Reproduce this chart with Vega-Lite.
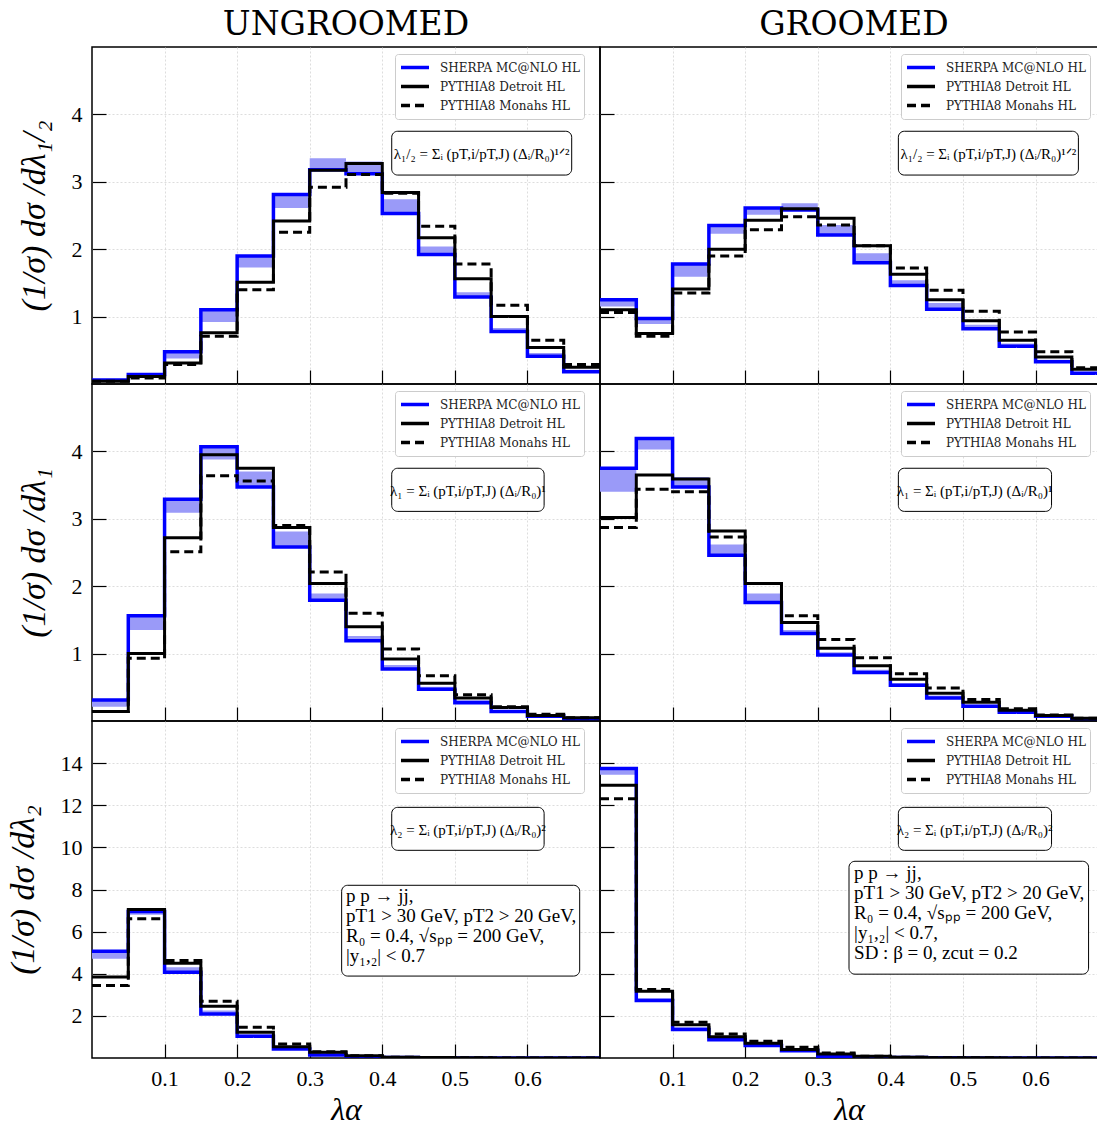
{
  "$schema": "https://vega.github.io/schema/vega-lite/v6.json",
  "background": "white",
  "padding": {"left": 5, "right": 0, "top": 8, "bottom": 2},
  "columns": 2,
  "spacing": 0,
  "bounds": "flush",
  "datasets": {
    "tl": [
      {"lo": 0, "hi": 0.05, "sherpa": 0.06, "band": 0.05, "detroit": 0.04, "monash": 0.04},
      {"lo": 0.05, "hi": 0.1, "sherpa": 0.14, "band": 0.12, "detroit": 0.11, "monash": 0.09},
      {"lo": 0.1, "hi": 0.15, "sherpa": 0.48, "band": 0.38, "detroit": 0.31, "monash": 0.29},
      {"lo": 0.15, "hi": 0.2, "sherpa": 1.10, "band": 0.92, "detroit": 0.76, "monash": 0.71},
      {"lo": 0.2, "hi": 0.25, "sherpa": 1.90, "band": 1.73, "detroit": 1.51, "monash": 1.40},
      {"lo": 0.25, "hi": 0.3, "sherpa": 2.81, "band": 2.61, "detroit": 2.42, "monash": 2.25},
      {"lo": 0.3, "hi": 0.35, "sherpa": 3.18, "band": 3.35, "detroit": 3.17, "monash": 2.92},
      {"lo": 0.35, "hi": 0.4, "sherpa": 3.12, "band": 3.30, "detroit": 3.27, "monash": 3.11},
      {"lo": 0.4, "hi": 0.45, "sherpa": 2.53, "band": 2.74, "detroit": 2.84, "monash": 2.83},
      {"lo": 0.45, "hi": 0.5, "sherpa": 1.92, "band": 2.04, "detroit": 2.17, "monash": 2.34},
      {"lo": 0.5, "hi": 0.55, "sherpa": 1.29, "band": 1.36, "detroit": 1.56, "monash": 1.78},
      {"lo": 0.55, "hi": 0.6, "sherpa": 0.78, "band": 0.83, "detroit": 1.00, "monash": 1.17},
      {"lo": 0.6, "hi": 0.65, "sherpa": 0.41, "band": 0.46, "detroit": 0.54, "monash": 0.65},
      {"lo": 0.65, "hi": 0.7, "sherpa": 0.18, "band": 0.21, "detroit": 0.25, "monash": 0.29}
    ],
    "tr": [
      {"lo": 0, "hi": 0.05, "sherpa": 1.25, "band": 1.15, "detroit": 1.10, "monash": 1.06},
      {"lo": 0.05, "hi": 0.1, "sherpa": 0.97, "band": 0.89, "detroit": 0.75, "monash": 0.71},
      {"lo": 0.1, "hi": 0.15, "sherpa": 1.78, "band": 1.59, "detroit": 1.41, "monash": 1.35},
      {"lo": 0.15, "hi": 0.2, "sherpa": 2.35, "band": 2.23, "detroit": 2.00, "monash": 1.90},
      {"lo": 0.2, "hi": 0.25, "sherpa": 2.61, "band": 2.51, "detroit": 2.43, "monash": 2.29},
      {"lo": 0.25, "hi": 0.3, "sherpa": 2.58, "band": 2.68, "detroit": 2.60, "monash": 2.48},
      {"lo": 0.3, "hi": 0.35, "sherpa": 2.21, "band": 2.36, "detroit": 2.46, "monash": 2.36},
      {"lo": 0.35, "hi": 0.4, "sherpa": 1.80, "band": 1.94, "detroit": 2.05, "monash": 2.05},
      {"lo": 0.4, "hi": 0.45, "sherpa": 1.46, "band": 1.54, "detroit": 1.63, "monash": 1.72},
      {"lo": 0.45, "hi": 0.5, "sherpa": 1.11, "band": 1.20, "detroit": 1.25, "monash": 1.39},
      {"lo": 0.5, "hi": 0.55, "sherpa": 0.82, "band": 0.88, "detroit": 0.94, "monash": 1.08},
      {"lo": 0.55, "hi": 0.6, "sherpa": 0.56, "band": 0.60, "detroit": 0.65, "monash": 0.77},
      {"lo": 0.6, "hi": 0.65, "sherpa": 0.33, "band": 0.36, "detroit": 0.40, "monash": 0.48},
      {"lo": 0.65, "hi": 0.7, "sherpa": 0.16, "band": 0.18, "detroit": 0.22, "monash": 0.24}
    ],
    "ml": [
      {"lo": 0, "hi": 0.05, "sherpa": 0.31, "band": 0.21, "detroit": 0.14, "monash": 0.14},
      {"lo": 0.05, "hi": 0.1, "sherpa": 1.56, "band": 1.35, "detroit": 1.00, "monash": 0.93},
      {"lo": 0.1, "hi": 0.15, "sherpa": 3.29, "band": 3.09, "detroit": 2.72, "monash": 2.51},
      {"lo": 0.15, "hi": 0.2, "sherpa": 4.07, "band": 3.88, "detroit": 3.95, "monash": 3.64},
      {"lo": 0.2, "hi": 0.25, "sherpa": 3.47, "band": 3.70, "detroit": 3.75, "monash": 3.56},
      {"lo": 0.25, "hi": 0.3, "sherpa": 2.58, "band": 2.81, "detroit": 2.87, "monash": 2.90},
      {"lo": 0.3, "hi": 0.35, "sherpa": 1.79, "band": 1.89, "detroit": 2.04, "monash": 2.21},
      {"lo": 0.35, "hi": 0.4, "sherpa": 1.19, "band": 1.26, "detroit": 1.40, "monash": 1.60},
      {"lo": 0.4, "hi": 0.45, "sherpa": 0.77, "band": 0.83, "detroit": 0.92, "monash": 1.07},
      {"lo": 0.45, "hi": 0.5, "sherpa": 0.47, "band": 0.51, "detroit": 0.56, "monash": 0.67},
      {"lo": 0.5, "hi": 0.55, "sherpa": 0.27, "band": 0.31, "detroit": 0.34, "monash": 0.39},
      {"lo": 0.55, "hi": 0.6, "sherpa": 0.14, "band": 0.16, "detroit": 0.20, "monash": 0.21},
      {"lo": 0.6, "hi": 0.65, "sherpa": 0.07, "band": 0.08, "detroit": 0.08, "monash": 0.10},
      {"lo": 0.65, "hi": 0.7, "sherpa": 0.03, "band": 0.03, "detroit": 0.05, "monash": 0.05}
    ],
    "mr": [
      {"lo": 0, "hi": 0.05, "sherpa": 3.75, "band": 3.40, "detroit": 3.02, "monash": 2.87},
      {"lo": 0.05, "hi": 0.1, "sherpa": 4.19, "band": 4.03, "detroit": 3.65, "monash": 3.44},
      {"lo": 0.1, "hi": 0.15, "sherpa": 3.47, "band": 3.62, "detroit": 3.59, "monash": 3.40},
      {"lo": 0.15, "hi": 0.2, "sherpa": 2.46, "band": 2.62, "detroit": 2.82, "monash": 2.73},
      {"lo": 0.2, "hi": 0.25, "sherpa": 1.76, "band": 1.89, "detroit": 2.04, "monash": 2.04},
      {"lo": 0.25, "hi": 0.3, "sherpa": 1.30, "band": 1.35, "detroit": 1.46, "monash": 1.56},
      {"lo": 0.3, "hi": 0.35, "sherpa": 0.98, "band": 1.02, "detroit": 1.08, "monash": 1.21},
      {"lo": 0.35, "hi": 0.4, "sherpa": 0.72, "band": 0.76, "detroit": 0.82, "monash": 0.94},
      {"lo": 0.4, "hi": 0.45, "sherpa": 0.53, "band": 0.56, "detroit": 0.62, "monash": 0.70},
      {"lo": 0.45, "hi": 0.5, "sherpa": 0.34, "band": 0.38, "detroit": 0.41, "monash": 0.49},
      {"lo": 0.5, "hi": 0.55, "sherpa": 0.22, "band": 0.24, "detroit": 0.28, "monash": 0.32},
      {"lo": 0.55, "hi": 0.6, "sherpa": 0.13, "band": 0.14, "detroit": 0.16, "monash": 0.18},
      {"lo": 0.6, "hi": 0.65, "sherpa": 0.07, "band": 0.07, "detroit": 0.08, "monash": 0.09},
      {"lo": 0.65, "hi": 0.7, "sherpa": 0.03, "band": 0.03, "detroit": 0.04, "monash": 0.04}
    ],
    "bl": [
      {"lo": 0, "hi": 0.05, "sherpa": 5.07, "band": 4.71, "detroit": 3.84, "monash": 3.44},
      {"lo": 0.05, "hi": 0.1, "sherpa": 6.96, "band": 6.80, "detroit": 7.05, "monash": 6.61},
      {"lo": 0.1, "hi": 0.15, "sherpa": 4.07, "band": 4.31, "detroit": 4.50, "monash": 4.63},
      {"lo": 0.15, "hi": 0.2, "sherpa": 2.09, "band": 2.25, "detroit": 2.46, "monash": 2.69},
      {"lo": 0.2, "hi": 0.25, "sherpa": 1.03, "band": 1.11, "detroit": 1.22, "monash": 1.46},
      {"lo": 0.25, "hi": 0.3, "sherpa": 0.43, "band": 0.51, "detroit": 0.54, "monash": 0.67},
      {"lo": 0.3, "hi": 0.35, "sherpa": 0.14, "band": 0.18, "detroit": 0.27, "monash": 0.30},
      {"lo": 0.35, "hi": 0.4, "sherpa": 0.06, "band": 0.07, "detroit": 0.11, "monash": 0.11},
      {"lo": 0.4, "hi": 0.45, "sherpa": 0.02, "band": 0.02, "detroit": 0.04, "monash": 0.04},
      {"lo": 0.45, "hi": 0.5, "sherpa": 0.01, "band": 0.01, "detroit": 0.02, "monash": 0.02},
      {"lo": 0.5, "hi": 0.55, "sherpa": 0.005, "band": 0.005, "detroit": 0.01, "monash": 0.01},
      {"lo": 0.55, "hi": 0.6, "sherpa": 0.003, "band": 0.003, "detroit": 0.005, "monash": 0.005},
      {"lo": 0.6, "hi": 0.65, "sherpa": 0.002, "band": 0.002, "detroit": 0.003, "monash": 0.003},
      {"lo": 0.65, "hi": 0.7, "sherpa": 0.001, "band": 0.001, "detroit": 0.002, "monash": 0.002}
    ],
    "br": [
      {"lo": 0, "hi": 0.05, "sherpa": 13.74, "band": 13.45, "detroit": 12.95, "monash": 12.31},
      {"lo": 0.05, "hi": 0.1, "sherpa": 2.73, "band": 2.84, "detroit": 3.17, "monash": 3.25},
      {"lo": 0.1, "hi": 0.15, "sherpa": 1.35, "band": 1.46, "detroit": 1.58, "monash": 1.70},
      {"lo": 0.15, "hi": 0.2, "sherpa": 0.87, "band": 0.98, "detroit": 1.01, "monash": 1.14},
      {"lo": 0.2, "hi": 0.25, "sherpa": 0.59, "band": 0.63, "detroit": 0.70, "monash": 0.79},
      {"lo": 0.25, "hi": 0.3, "sherpa": 0.35, "band": 0.38, "detroit": 0.40, "monash": 0.51},
      {"lo": 0.3, "hi": 0.35, "sherpa": 0.08, "band": 0.12, "detroit": 0.19, "monash": 0.24},
      {"lo": 0.35, "hi": 0.4, "sherpa": 0.03, "band": 0.04, "detroit": 0.08, "monash": 0.08},
      {"lo": 0.4, "hi": 0.45, "sherpa": 0.02, "band": 0.02, "detroit": 0.03, "monash": 0.03},
      {"lo": 0.45, "hi": 0.5, "sherpa": 0.01, "band": 0.01, "detroit": 0.015, "monash": 0.015},
      {"lo": 0.5, "hi": 0.55, "sherpa": 0.005, "band": 0.005, "detroit": 0.01, "monash": 0.01},
      {"lo": 0.55, "hi": 0.6, "sherpa": 0.003, "band": 0.003, "detroit": 0.005, "monash": 0.005},
      {"lo": 0.6, "hi": 0.65, "sherpa": 0.002, "band": 0.002, "detroit": 0.003, "monash": 0.003},
      {"lo": 0.65, "hi": 0.7, "sherpa": 0.001, "band": 0.001, "detroit": 0.002, "monash": 0.002}
    ]
  },
  "concat": [
    {
      "width": 508, "height": 337,
      "title": {"text": "UNGROOMED"},
      "data": {"name": "tl"},
      "layer": [
        {"mark": {"type": "rect", "fill": "#9a9af8", "clip": true},
         "encoding": {
           "x": {"field": "lo", "type": "quantitative", "scale": {"domain": [0, 0.7], "nice": false, "zero": false}, "axis": {"values": [0.1, 0.2, 0.3, 0.4, 0.5, 0.6], "labels": false, "title": null}},
           "x2": {"field": "hi"},
           "y": {"field": "sherpa", "type": "quantitative", "scale": {"domain": [0, 5], "nice": false, "zero": false}, "axis": {"values": [1, 2, 3, 4], "format": "d", "title": "(1/σ) dσ /dλ₁/₂"}},
           "y2": {"field": "band"}}},
        {"transform": [{"fold": ["lo", "hi"], "as": ["side", "edge"]}],
         "mark": {"type": "line", "strokeWidth": 3.5, "clip": true},
         "encoding": {
           "x": {"field": "edge", "type": "quantitative"},
           "y": {"field": "sherpa", "type": "quantitative"},
           "order": [{"field": "edge", "type": "quantitative"}, {"field": "side", "type": "ordinal"}],
           "color": {"datum": "SHERPA MC@NLO HL", "type": "nominal", "scale": {"domain": ["SHERPA MC@NLO HL", "PYTHIA8 Detroit HL", "PYTHIA8 Monahs HL"], "range": ["#0000ff", "#000000", "#000000"]}, "legend": {"title": null, "orient": "none", "legendX": 303, "legendY": 7}},
           "strokeDash": {"datum": "SHERPA MC@NLO HL", "type": "nominal", "scale": {"domain": ["SHERPA MC@NLO HL", "PYTHIA8 Detroit HL", "PYTHIA8 Monahs HL"], "range": [[1, 0], [1, 0], [9, 5]]}, "legend": {"title": null, "orient": "none", "legendX": 303, "legendY": 7}}}},
        {"transform": [{"fold": ["lo", "hi"], "as": ["side", "edge"]}],
         "mark": {"type": "line", "strokeWidth": 3, "clip": true},
         "encoding": {
           "x": {"field": "edge", "type": "quantitative"},
           "y": {"field": "monash", "type": "quantitative"},
           "order": [{"field": "edge", "type": "quantitative"}, {"field": "side", "type": "ordinal"}],
           "color": {"datum": "PYTHIA8 Monahs HL", "type": "nominal"},
           "strokeDash": {"datum": "PYTHIA8 Monahs HL", "type": "nominal"}}},
        {"transform": [{"fold": ["lo", "hi"], "as": ["side", "edge"]}],
         "mark": {"type": "line", "strokeWidth": 3, "clip": true},
         "encoding": {
           "x": {"field": "edge", "type": "quantitative"},
           "y": {"field": "detroit", "type": "quantitative"},
           "order": [{"field": "edge", "type": "quantitative"}, {"field": "side", "type": "ordinal"}],
           "color": {"datum": "PYTHIA8 Detroit HL", "type": "nominal"},
           "strokeDash": {"datum": "PYTHIA8 Detroit HL", "type": "nominal"}}},
        {"data": {"values": [{}]},
         "mark": {"type": "rect", "fill": "white", "stroke": "black", "strokeWidth": 1, "cornerRadius": 6},
         "encoding": {"x": {"datum": 0.413}, "x2": {"datum": 0.661}, "y": {"datum": 3.75}, "y2": {"datum": 3.10}}},
        {"data": {"values": [{}]},
         "mark": {"type": "text", "text": "λ₁/₂ = Σᵢ (pT,i/pT,J) (Δᵢ/R₀)¹ᐟ²", "font": "Liberation Serif", "fontSize": 15, "align": "center", "baseline": "middle", "color": "black"},
         "encoding": {"x": {"datum": 0.537}, "y": {"datum": 3.41}}}
      ]
    },
    {
      "width": 498, "height": 337,
      "title": {"text": "GROOMED", "dx": 5},
      "data": {"name": "tr"},
      "layer": [
        {"mark": {"type": "rect", "fill": "#9a9af8", "clip": true},
         "encoding": {
           "x": {"field": "lo", "type": "quantitative", "scale": {"domain": [0, 0.686], "nice": false, "zero": false}, "axis": {"values": [0.1, 0.2, 0.3, 0.4, 0.5, 0.6], "labels": false, "title": null}},
           "x2": {"field": "hi"},
           "y": {"field": "sherpa", "type": "quantitative", "scale": {"domain": [0, 5], "nice": false, "zero": false}, "axis": {"values": [1, 2, 3, 4], "labels": false, "title": null}},
           "y2": {"field": "band"}}},
        {"transform": [{"fold": ["lo", "hi"], "as": ["side", "edge"]}],
         "mark": {"type": "line", "strokeWidth": 3.5, "clip": true},
         "encoding": {
           "x": {"field": "edge", "type": "quantitative"},
           "y": {"field": "sherpa", "type": "quantitative"},
           "order": [{"field": "edge", "type": "quantitative"}, {"field": "side", "type": "ordinal"}],
           "color": {"datum": "SHERPA MC@NLO HL", "type": "nominal", "scale": {"domain": ["SHERPA MC@NLO HL", "PYTHIA8 Detroit HL", "PYTHIA8 Monahs HL"], "range": ["#0000ff", "#000000", "#000000"]}, "legend": {"title": null, "orient": "none", "legendX": 301, "legendY": 7}},
           "strokeDash": {"datum": "SHERPA MC@NLO HL", "type": "nominal", "scale": {"domain": ["SHERPA MC@NLO HL", "PYTHIA8 Detroit HL", "PYTHIA8 Monahs HL"], "range": [[1, 0], [1, 0], [9, 5]]}, "legend": {"title": null, "orient": "none", "legendX": 301, "legendY": 7}}}},
        {"transform": [{"fold": ["lo", "hi"], "as": ["side", "edge"]}],
         "mark": {"type": "line", "strokeWidth": 3, "clip": true},
         "encoding": {
           "x": {"field": "edge", "type": "quantitative"},
           "y": {"field": "monash", "type": "quantitative"},
           "order": [{"field": "edge", "type": "quantitative"}, {"field": "side", "type": "ordinal"}],
           "color": {"datum": "PYTHIA8 Monahs HL", "type": "nominal"},
           "strokeDash": {"datum": "PYTHIA8 Monahs HL", "type": "nominal"}}},
        {"transform": [{"fold": ["lo", "hi"], "as": ["side", "edge"]}],
         "mark": {"type": "line", "strokeWidth": 3, "clip": true},
         "encoding": {
           "x": {"field": "edge", "type": "quantitative"},
           "y": {"field": "detroit", "type": "quantitative"},
           "order": [{"field": "edge", "type": "quantitative"}, {"field": "side", "type": "ordinal"}],
           "color": {"datum": "PYTHIA8 Detroit HL", "type": "nominal"},
           "strokeDash": {"datum": "PYTHIA8 Detroit HL", "type": "nominal"}}},
        {"data": {"values": [{}]},
         "mark": {"type": "rect", "fill": "white", "stroke": "black", "strokeWidth": 1, "cornerRadius": 6},
         "encoding": {"x": {"datum": 0.411}, "x2": {"datum": 0.659}, "y": {"datum": 3.75}, "y2": {"datum": 3.10}}},
        {"data": {"values": [{}]},
         "mark": {"type": "text", "text": "λ₁/₂ = Σᵢ (pT,i/pT,J) (Δᵢ/R₀)¹ᐟ²", "font": "Liberation Serif", "fontSize": 15, "align": "center", "baseline": "middle", "color": "black"},
         "encoding": {"x": {"datum": 0.535}, "y": {"datum": 3.41}}}
      ]
    },
    {
      "width": 508, "height": 337,
      "data": {"name": "ml"},
      "layer": [
        {"mark": {"type": "rect", "fill": "#9a9af8", "clip": true},
         "encoding": {
           "x": {"field": "lo", "type": "quantitative", "scale": {"domain": [0, 0.7], "nice": false, "zero": false}, "axis": {"values": [0.1, 0.2, 0.3, 0.4, 0.5, 0.6], "labels": false, "title": null}},
           "x2": {"field": "hi"},
           "y": {"field": "sherpa", "type": "quantitative", "scale": {"domain": [0, 5], "nice": false, "zero": false}, "axis": {"values": [1, 2, 3, 4], "format": "d", "title": "(1/σ) dσ /dλ₁"}},
           "y2": {"field": "band"}}},
        {"transform": [{"fold": ["lo", "hi"], "as": ["side", "edge"]}],
         "mark": {"type": "line", "strokeWidth": 3.5, "clip": true},
         "encoding": {
           "x": {"field": "edge", "type": "quantitative"},
           "y": {"field": "sherpa", "type": "quantitative"},
           "order": [{"field": "edge", "type": "quantitative"}, {"field": "side", "type": "ordinal"}],
           "color": {"datum": "SHERPA MC@NLO HL", "type": "nominal", "scale": {"domain": ["SHERPA MC@NLO HL", "PYTHIA8 Detroit HL", "PYTHIA8 Monahs HL"], "range": ["#0000ff", "#000000", "#000000"]}, "legend": {"title": null, "orient": "none", "legendX": 303, "legendY": 7}},
           "strokeDash": {"datum": "SHERPA MC@NLO HL", "type": "nominal", "scale": {"domain": ["SHERPA MC@NLO HL", "PYTHIA8 Detroit HL", "PYTHIA8 Monahs HL"], "range": [[1, 0], [1, 0], [9, 5]]}, "legend": {"title": null, "orient": "none", "legendX": 303, "legendY": 7}}}},
        {"transform": [{"fold": ["lo", "hi"], "as": ["side", "edge"]}],
         "mark": {"type": "line", "strokeWidth": 3, "clip": true},
         "encoding": {
           "x": {"field": "edge", "type": "quantitative"},
           "y": {"field": "monash", "type": "quantitative"},
           "order": [{"field": "edge", "type": "quantitative"}, {"field": "side", "type": "ordinal"}],
           "color": {"datum": "PYTHIA8 Monahs HL", "type": "nominal"},
           "strokeDash": {"datum": "PYTHIA8 Monahs HL", "type": "nominal"}}},
        {"transform": [{"fold": ["lo", "hi"], "as": ["side", "edge"]}],
         "mark": {"type": "line", "strokeWidth": 3, "clip": true},
         "encoding": {
           "x": {"field": "edge", "type": "quantitative"},
           "y": {"field": "detroit", "type": "quantitative"},
           "order": [{"field": "edge", "type": "quantitative"}, {"field": "side", "type": "ordinal"}],
           "color": {"datum": "PYTHIA8 Detroit HL", "type": "nominal"},
           "strokeDash": {"datum": "PYTHIA8 Detroit HL", "type": "nominal"}}},
        {"data": {"values": [{}]},
         "mark": {"type": "rect", "fill": "white", "stroke": "black", "strokeWidth": 1, "cornerRadius": 6},
         "encoding": {"x": {"datum": 0.413}, "x2": {"datum": 0.623}, "y": {"datum": 3.75}, "y2": {"datum": 3.11}}},
        {"data": {"values": [{}]},
         "mark": {"type": "text", "text": "λ₁ = Σᵢ (pT,i/pT,J) (Δᵢ/R₀)¹", "font": "Liberation Serif", "fontSize": 15, "align": "center", "baseline": "middle", "color": "black"},
         "encoding": {"x": {"datum": 0.518}, "y": {"datum": 3.41}}}
      ]
    },
    {
      "width": 498, "height": 337,
      "data": {"name": "mr"},
      "layer": [
        {"mark": {"type": "rect", "fill": "#9a9af8", "clip": true},
         "encoding": {
           "x": {"field": "lo", "type": "quantitative", "scale": {"domain": [0, 0.686], "nice": false, "zero": false}, "axis": {"values": [0.1, 0.2, 0.3, 0.4, 0.5, 0.6], "labels": false, "title": null}},
           "x2": {"field": "hi"},
           "y": {"field": "sherpa", "type": "quantitative", "scale": {"domain": [0, 5], "nice": false, "zero": false}, "axis": {"values": [1, 2, 3, 4], "labels": false, "title": null}},
           "y2": {"field": "band"}}},
        {"transform": [{"fold": ["lo", "hi"], "as": ["side", "edge"]}],
         "mark": {"type": "line", "strokeWidth": 3.5, "clip": true},
         "encoding": {
           "x": {"field": "edge", "type": "quantitative"},
           "y": {"field": "sherpa", "type": "quantitative"},
           "order": [{"field": "edge", "type": "quantitative"}, {"field": "side", "type": "ordinal"}],
           "color": {"datum": "SHERPA MC@NLO HL", "type": "nominal", "scale": {"domain": ["SHERPA MC@NLO HL", "PYTHIA8 Detroit HL", "PYTHIA8 Monahs HL"], "range": ["#0000ff", "#000000", "#000000"]}, "legend": {"title": null, "orient": "none", "legendX": 301, "legendY": 7}},
           "strokeDash": {"datum": "SHERPA MC@NLO HL", "type": "nominal", "scale": {"domain": ["SHERPA MC@NLO HL", "PYTHIA8 Detroit HL", "PYTHIA8 Monahs HL"], "range": [[1, 0], [1, 0], [9, 5]]}, "legend": {"title": null, "orient": "none", "legendX": 301, "legendY": 7}}}},
        {"transform": [{"fold": ["lo", "hi"], "as": ["side", "edge"]}],
         "mark": {"type": "line", "strokeWidth": 3, "clip": true},
         "encoding": {
           "x": {"field": "edge", "type": "quantitative"},
           "y": {"field": "monash", "type": "quantitative"},
           "order": [{"field": "edge", "type": "quantitative"}, {"field": "side", "type": "ordinal"}],
           "color": {"datum": "PYTHIA8 Monahs HL", "type": "nominal"},
           "strokeDash": {"datum": "PYTHIA8 Monahs HL", "type": "nominal"}}},
        {"transform": [{"fold": ["lo", "hi"], "as": ["side", "edge"]}],
         "mark": {"type": "line", "strokeWidth": 3, "clip": true},
         "encoding": {
           "x": {"field": "edge", "type": "quantitative"},
           "y": {"field": "detroit", "type": "quantitative"},
           "order": [{"field": "edge", "type": "quantitative"}, {"field": "side", "type": "ordinal"}],
           "color": {"datum": "PYTHIA8 Detroit HL", "type": "nominal"},
           "strokeDash": {"datum": "PYTHIA8 Detroit HL", "type": "nominal"}}},
        {"data": {"values": [{}]},
         "mark": {"type": "rect", "fill": "white", "stroke": "black", "strokeWidth": 1, "cornerRadius": 6},
         "encoding": {"x": {"datum": 0.411}, "x2": {"datum": 0.622}, "y": {"datum": 3.75}, "y2": {"datum": 3.11}}},
        {"data": {"values": [{}]},
         "mark": {"type": "text", "text": "λ₁ = Σᵢ (pT,i/pT,J) (Δᵢ/R₀)¹", "font": "Liberation Serif", "fontSize": 15, "align": "center", "baseline": "middle", "color": "black"},
         "encoding": {"x": {"datum": 0.516}, "y": {"datum": 3.41}}}
      ]
    },
    {
      "width": 508, "height": 337,
      "data": {"name": "bl"},
      "layer": [
        {"mark": {"type": "rect", "fill": "#9a9af8", "clip": true},
         "encoding": {
           "x": {"field": "lo", "type": "quantitative", "scale": {"domain": [0, 0.7], "nice": false, "zero": false}, "axis": {"values": [0.1, 0.2, 0.3, 0.4, 0.5, 0.6], "format": ".1f", "title": "λα"}},
           "x2": {"field": "hi"},
           "y": {"field": "sherpa", "type": "quantitative", "scale": {"domain": [0, 16], "nice": false, "zero": false}, "axis": {"values": [2, 4, 6, 8, 10, 12, 14], "format": "d", "title": "(1/σ) dσ /dλ₂"}},
           "y2": {"field": "band"}}},
        {"transform": [{"fold": ["lo", "hi"], "as": ["side", "edge"]}],
         "mark": {"type": "line", "strokeWidth": 3.5, "clip": true},
         "encoding": {
           "x": {"field": "edge", "type": "quantitative"},
           "y": {"field": "sherpa", "type": "quantitative"},
           "order": [{"field": "edge", "type": "quantitative"}, {"field": "side", "type": "ordinal"}],
           "color": {"datum": "SHERPA MC@NLO HL", "type": "nominal", "scale": {"domain": ["SHERPA MC@NLO HL", "PYTHIA8 Detroit HL", "PYTHIA8 Monahs HL"], "range": ["#0000ff", "#000000", "#000000"]}, "legend": {"title": null, "orient": "none", "legendX": 303, "legendY": 7}},
           "strokeDash": {"datum": "SHERPA MC@NLO HL", "type": "nominal", "scale": {"domain": ["SHERPA MC@NLO HL", "PYTHIA8 Detroit HL", "PYTHIA8 Monahs HL"], "range": [[1, 0], [1, 0], [9, 5]]}, "legend": {"title": null, "orient": "none", "legendX": 303, "legendY": 7}}}},
        {"transform": [{"fold": ["lo", "hi"], "as": ["side", "edge"]}],
         "mark": {"type": "line", "strokeWidth": 3, "clip": true},
         "encoding": {
           "x": {"field": "edge", "type": "quantitative"},
           "y": {"field": "monash", "type": "quantitative"},
           "order": [{"field": "edge", "type": "quantitative"}, {"field": "side", "type": "ordinal"}],
           "color": {"datum": "PYTHIA8 Monahs HL", "type": "nominal"},
           "strokeDash": {"datum": "PYTHIA8 Monahs HL", "type": "nominal"}}},
        {"transform": [{"fold": ["lo", "hi"], "as": ["side", "edge"]}],
         "mark": {"type": "line", "strokeWidth": 3, "clip": true},
         "encoding": {
           "x": {"field": "edge", "type": "quantitative"},
           "y": {"field": "detroit", "type": "quantitative"},
           "order": [{"field": "edge", "type": "quantitative"}, {"field": "side", "type": "ordinal"}],
           "color": {"datum": "PYTHIA8 Detroit HL", "type": "nominal"},
           "strokeDash": {"datum": "PYTHIA8 Detroit HL", "type": "nominal"}}},
        {"data": {"values": [{}]},
         "mark": {"type": "rect", "fill": "white", "stroke": "black", "strokeWidth": 1, "cornerRadius": 6},
         "encoding": {"x": {"datum": 0.413}, "x2": {"datum": 0.623}, "y": {"datum": 11.9}, "y2": {"datum": 9.86}}},
        {"data": {"values": [{}]},
         "mark": {"type": "text", "text": "λ₂ = Σᵢ (pT,i/pT,J) (Δᵢ/R₀)²", "font": "Liberation Serif", "fontSize": 15, "align": "center", "baseline": "middle", "color": "black"},
         "encoding": {"x": {"datum": 0.518}, "y": {"datum": 10.82}}},
        {"data": {"values": [{}]},
         "mark": {"type": "rect", "fill": "white", "stroke": "black", "strokeWidth": 1, "cornerRadius": 6},
         "encoding": {"x": {"datum": 0.344}, "x2": {"datum": 0.672}, "y": {"datum": 8.2}, "y2": {"datum": 3.89}}},
        {"data": {"values": [{}]},
         "mark": {"type": "text", "text": ["p p → jj,", "pT1 > 30 GeV,  pT2 > 20 GeV,", "R₀ = 0.4,  √sₚₚ = 200 GeV,", "|y₁,₂| < 0.7"], "font": "Liberation Serif", "fontSize": 19, "lineHeight": 20, "align": "left", "baseline": "top", "color": "black"},
         "encoding": {"x": {"datum": 0.35}, "y": {"datum": 8.1}}}
      ]
    },
    {
      "width": 498, "height": 337,
      "data": {"name": "br"},
      "layer": [
        {"mark": {"type": "rect", "fill": "#9a9af8", "clip": true},
         "encoding": {
           "x": {"field": "lo", "type": "quantitative", "scale": {"domain": [0, 0.686], "nice": false, "zero": false}, "axis": {"values": [0.1, 0.2, 0.3, 0.4, 0.5, 0.6], "format": ".1f", "title": "λα"}},
           "x2": {"field": "hi"},
           "y": {"field": "sherpa", "type": "quantitative", "scale": {"domain": [0, 16], "nice": false, "zero": false}, "axis": {"values": [2, 4, 6, 8, 10, 12, 14], "labels": false, "title": null}},
           "y2": {"field": "band"}}},
        {"transform": [{"fold": ["lo", "hi"], "as": ["side", "edge"]}],
         "mark": {"type": "line", "strokeWidth": 3.5, "clip": true},
         "encoding": {
           "x": {"field": "edge", "type": "quantitative"},
           "y": {"field": "sherpa", "type": "quantitative"},
           "order": [{"field": "edge", "type": "quantitative"}, {"field": "side", "type": "ordinal"}],
           "color": {"datum": "SHERPA MC@NLO HL", "type": "nominal", "scale": {"domain": ["SHERPA MC@NLO HL", "PYTHIA8 Detroit HL", "PYTHIA8 Monahs HL"], "range": ["#0000ff", "#000000", "#000000"]}, "legend": {"title": null, "orient": "none", "legendX": 301, "legendY": 7}},
           "strokeDash": {"datum": "SHERPA MC@NLO HL", "type": "nominal", "scale": {"domain": ["SHERPA MC@NLO HL", "PYTHIA8 Detroit HL", "PYTHIA8 Monahs HL"], "range": [[1, 0], [1, 0], [9, 5]]}, "legend": {"title": null, "orient": "none", "legendX": 301, "legendY": 7}}}},
        {"transform": [{"fold": ["lo", "hi"], "as": ["side", "edge"]}],
         "mark": {"type": "line", "strokeWidth": 3, "clip": true},
         "encoding": {
           "x": {"field": "edge", "type": "quantitative"},
           "y": {"field": "monash", "type": "quantitative"},
           "order": [{"field": "edge", "type": "quantitative"}, {"field": "side", "type": "ordinal"}],
           "color": {"datum": "PYTHIA8 Monahs HL", "type": "nominal"},
           "strokeDash": {"datum": "PYTHIA8 Monahs HL", "type": "nominal"}}},
        {"transform": [{"fold": ["lo", "hi"], "as": ["side", "edge"]}],
         "mark": {"type": "line", "strokeWidth": 3, "clip": true},
         "encoding": {
           "x": {"field": "edge", "type": "quantitative"},
           "y": {"field": "detroit", "type": "quantitative"},
           "order": [{"field": "edge", "type": "quantitative"}, {"field": "side", "type": "ordinal"}],
           "color": {"datum": "PYTHIA8 Detroit HL", "type": "nominal"},
           "strokeDash": {"datum": "PYTHIA8 Detroit HL", "type": "nominal"}}},
        {"data": {"values": [{}]},
         "mark": {"type": "rect", "fill": "white", "stroke": "black", "strokeWidth": 1, "cornerRadius": 6},
         "encoding": {"x": {"datum": 0.411}, "x2": {"datum": 0.622}, "y": {"datum": 11.9}, "y2": {"datum": 9.86}}},
        {"data": {"values": [{}]},
         "mark": {"type": "text", "text": "λ₂ = Σᵢ (pT,i/pT,J) (Δᵢ/R₀)²", "font": "Liberation Serif", "fontSize": 15, "align": "center", "baseline": "middle", "color": "black"},
         "encoding": {"x": {"datum": 0.516}, "y": {"datum": 10.82}}},
        {"data": {"values": [{}]},
         "mark": {"type": "rect", "fill": "white", "stroke": "black", "strokeWidth": 1, "cornerRadius": 6},
         "encoding": {"x": {"datum": 0.343}, "x2": {"datum": 0.673}, "y": {"datum": 9.34}, "y2": {"datum": 3.98}}},
        {"data": {"values": [{}]},
         "mark": {"type": "text", "text": ["p p → jj,", "pT1 > 30 GeV,  pT2 > 20 GeV,", "R₀ = 0.4,  √sₚₚ = 200 GeV,", "|y₁,₂| < 0.7,", "SD : β = 0, zcut = 0.2"], "font": "Liberation Serif", "fontSize": 19, "lineHeight": 20, "align": "left", "baseline": "top", "color": "black"},
         "encoding": {"x": {"datum": 0.35}, "y": {"datum": 9.22}}}
      ]
    }
  ],
  "resolve": {
    "scale": {"x": "independent", "y": "independent", "color": "independent", "strokeDash": "independent"},
    "axis": {"x": "independent", "y": "independent"},
    "legend": {"color": "independent", "strokeDash": "independent"}
  },
  "config": {
    "view": {"stroke": "black", "strokeWidth": 1.5},
    "font": "Liberation Serif",
    "axis": {
      "domain": false,
      "grid": true, "gridColor": "#d4d4d4", "gridDash": [2, 2], "gridWidth": 0.8,
      "ticks": true, "tickSize": -14, "tickWidth": 1.2, "tickColor": "black",
      "labelFont": "Liberation Serif", "labelFontSize": 22, "labelColor": "black", "labelPadding": 24,
      "labelOverlap": false, "labelFlush": false,
      "titleFont": "Liberation Serif", "titleFontSize": 34, "titleFontWeight": "normal", "titleFontStyle": "italic", "titleColor": "black", "titlePadding": 10
    },
    "axisY": {"titlePadding": 20},
    "axisX": {"titlePadding": 5, "titleFontSize": 32},
    "legend": {
      "fillColor": "white", "strokeColor": "#cccccc", "cornerRadius": 3, "padding": 4,
      "labelFont": "DejaVu Serif", "labelFontSize": 12, "labelColor": "#222222", "labelLimit": 300, "labelOffset": 9,
      "symbolType": "stroke", "symbolSize": 784, "symbolStrokeWidth": 3.5, "rowPadding": 0, "clipHeight": 19
    },
    "title": {"font": "DejaVu Serif", "fontSize": 33, "fontWeight": "normal", "color": "black", "offset": 5}
  }
}
